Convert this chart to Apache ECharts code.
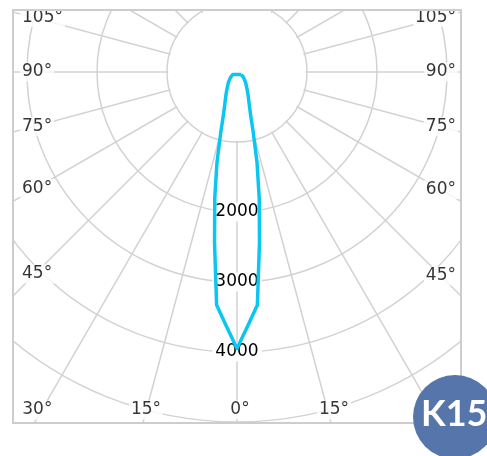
<!DOCTYPE html>
<html>
<head>
<meta charset="utf-8">
<script src="https://cdn.jsdelivr.net/npm/echarts@6/dist/echarts.min.js"></script>
<style>
  html, body { margin: 0; padding: 0; background: #fff; }
  #chart { width: 487px; height: 456px; }
</style>
</head>
<body>
<div id="chart"></div>
<script>
// half-plane intensity curve (gamma in degrees, candela), mirrored on both sides
var gamma = [0, 2.5, 5, 7.5, 10, 12.5, 15, 17.5, 20, 25, 30, 40, 50, 60];
var intensity = [3950, 3620, 3340, 2460, 1830, 1320, 900, 650, 520, 380, 290, 190, 120, 70];
// labelled rings and angle ticks
var radiusTicks = [2000, 3000, 4000];
var angleTicks = [0, 15, 30, 45, 60, 75, 90, 105];
var bottomTicks = [0, 15, 30]; // these sit on the bottom edge, the others on the sides

// layout (pixels)
var cx = 237, cy = 72;
var rOuter = 420, rMax = 6000;
var pxPerUnit = rOuter / rMax;
var innerR = 70; // radial lines start at the 1000 ring
var frame = { left: 13, top: 10, right: 461, bottom: 423 };
var textLeft = 20, textRight = 458;

var labelFont = 'DejaVu Sans';
var labelColor = '#000';
var gridColor = '#d2d2d2';

// curve: right side (angles 360 - g) going down, then left side (angles g) going up
var curve = [];
for (var i = gamma.length - 1; i >= 0; i--) {
  curve.push([intensity[i], (360 - gamma[i]) % 360]);
}
for (var j = 1; j < gamma.length; j++) {
  curve.push([intensity[j], gamma[j]]);
}
curve.push(curve[0]);

// angle labels: place them where each ray meets the label band of the frame
function toRad (d) { return d * Math.PI / 180; }
var angleLabels = [];
angleTicks.forEach(function (g) {
  var sides = g === 0 ? [1] : [1, -1];
  sides.forEach(function (s) {
    var r, label;
    if (bottomTicks.indexOf(g) >= 0) {
      r = (frame.bottom - cy) / Math.cos(toRad(g));
      label = { offset: [3, -13] };
    } else if (s > 0) {
      // left side, text starts at textLeft
      r = 202 / Math.sin(toRad(g));
      label = { align: 'left', offset: [textLeft - (cx - 202), 0] };
    } else {
      // right side, text ends at textRight
      r = 204 / Math.sin(toRad(g));
      label = { align: 'right', offset: [textRight - (cx + 204), 0] };
    }
    angleLabels.push({
      name: g + '°',
      value: [r / pxPerUnit, s > 0 ? g : (360 - g) % 360],
      label: label
    });
  });
});

var myChart = echarts.init(document.getElementById('chart'));
myChart.setOption({
  animation: false,
  polar: {
    center: [cx, cy],
    radius: rOuter
  },
  angleAxis: {
    type: 'value',
    min: 0,
    max: 360,
    interval: 15,
    startAngle: -90,
    clockwise: true,
    axisLine: { show: false },
    axisTick: { show: false },
    axisLabel: { show: false },
    splitLine: { show: true, lineStyle: { color: gridColor, width: 1.5 } }
  },
  radiusAxis: {
    type: 'value',
    min: 0,
    max: rMax,
    interval: 1000,
    axisLine: { show: false },
    axisTick: { show: false },
    axisLabel: {
      margin: 0,
      align: 'center',
      verticalAlign: 'middle',
      formatter: function (v) {
        return radiusTicks.indexOf(v) >= 0 ? '{t|' + v + '}' : '';
      },
      rich: {
        t: {
          fontFamily: labelFont,
          fontSize: 17,
          color: labelColor,
          backgroundColor: '#fff',
          padding: [1, 3]
        }
      }
    },
    splitLine: { show: true, lineStyle: { color: gridColor, width: 1.5 } }
  },
  series: [
    {
      type: 'line',
      coordinateSystem: 'polar',
      data: curve,
      showSymbol: false,
      clip: false,
      z: 4,
      lineStyle: { color: '#0cc6f2', width: 3.5, join: 'round' }
    },
    {
      type: 'scatter',
      coordinateSystem: 'polar',
      data: angleLabels,
      symbolSize: 1,
      clip: false,
      z: 3,
      itemStyle: { color: 'rgba(0,0,0,0)' },
      label: {
        show: true,
        position: 'inside',
        formatter: '{b}',
        fontFamily: labelFont,
        fontSize: 17,
        color: labelColor,
        backgroundColor: '#fff',
        padding: [1, 2]
      }
    }
  ],
  graphic: {
    elements: [
      // blank centre: radial lines start at the 1000 ring
      { type: 'circle', z: 1, silent: true, shape: { cx: cx, cy: cy, r: innerR - 1.2 }, style: { fill: '#fff' } },
      // white masks: the grid is cut off at the frame
      { type: 'rect', z: 100, silent: true, shape: { x: 0, y: 0, width: 487, height: frame.top - 1 }, style: { fill: '#fff' } },
      { type: 'rect', z: 100, silent: true, shape: { x: 0, y: 0, width: frame.left - 1, height: 456 }, style: { fill: '#fff' } },
      { type: 'rect', z: 100, silent: true, shape: { x: frame.right + 1, y: 0, width: 40, height: 456 }, style: { fill: '#fff' } },
      { type: 'rect', z: 100, silent: true, shape: { x: 0, y: frame.bottom + 1, width: 487, height: 40 }, style: { fill: '#fff' } },
      {
        type: 'rect', z: 101, silent: true,
        shape: { x: frame.left, y: frame.top, width: frame.right - frame.left, height: frame.bottom - frame.top },
        style: { fill: 'none', stroke: '#cdcdcd', lineWidth: 2 }
      },
      // badge
      { type: 'circle', z: 102, silent: true, shape: { cx: 455, cy: 417, r: 42 }, style: { fill: '#5675ab' } },
      {
        type: 'text', z: 103, silent: true, x: 421, y: 414,
        style: { text: 'K15', fill: '#fff', font: 'bold 36px Lato', verticalAlign: 'middle' }
      }
    ]
  }
});
</script>
</body>
</html>
